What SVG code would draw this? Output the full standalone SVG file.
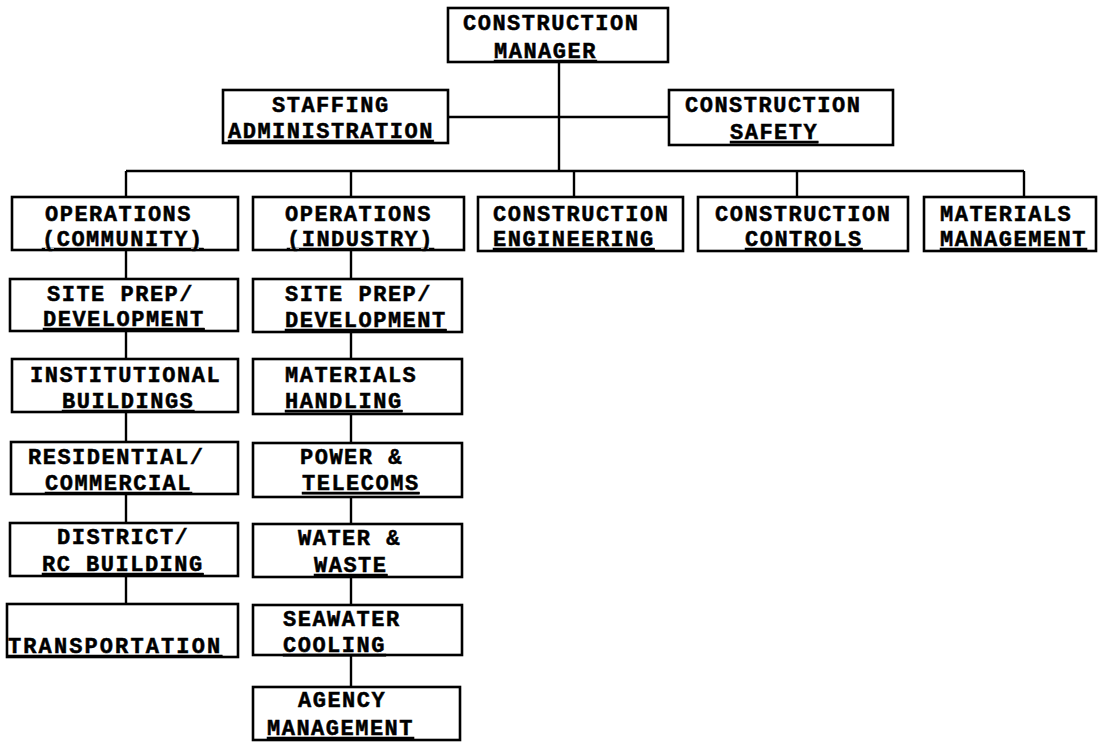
<svg xmlns="http://www.w3.org/2000/svg" width="1098" height="742" viewBox="0 0 1098 742">
<style>
  .box { fill: #fff; stroke: #000; stroke-width: 2.6; }
  .t { font-family: "Liberation Mono", "Courier New", monospace; font-weight: bold; font-size: 22px; letter-spacing: 1.5px; fill: #000; stroke: #000; stroke-width: 0.5; }
  .u { text-decoration: underline; }
  .c line { stroke: #000; stroke-width: 2.4; }
</style>
<rect width="1098" height="742" fill="#fff"/>
<g class="c" id="connectors">
  <line x1="559" y1="62" x2="559" y2="171"/>
  <line x1="448" y1="117" x2="669" y2="117"/>
  <line x1="126" y1="171" x2="1024" y2="171"/>
  <line x1="126" y1="171" x2="126" y2="197"/>
  <line x1="351" y1="171" x2="351" y2="197"/>
  <line x1="574" y1="171" x2="574" y2="197"/>
  <line x1="797" y1="171" x2="797" y2="197"/>
  <line x1="1024" y1="171" x2="1024" y2="197"/>
  <line x1="126" y1="250" x2="126" y2="279"/>
  <line x1="126" y1="331" x2="126" y2="359"/>
  <line x1="126" y1="412" x2="126" y2="442"/>
  <line x1="126" y1="494" x2="126" y2="523"/>
  <line x1="126" y1="576" x2="126" y2="604"/>
  <line x1="351" y1="250" x2="351" y2="279"/>
  <line x1="351" y1="332" x2="351" y2="359"/>
  <line x1="351" y1="414" x2="351" y2="443"/>
  <line x1="351" y1="497" x2="351" y2="524"/>
  <line x1="351" y1="577" x2="351" y2="605"/>
  <line x1="351" y1="655" x2="351" y2="687"/>
</g>
<g id="manager"><rect class="box" x="448" y="8" width="220" height="54"/>
  <text class="t" x="463" y="30">CONSTRUCTION</text><text class="t u" x="494" y="58">MANAGER</text></g>
<g id="staffing"><rect class="box" x="223" y="90" width="225" height="53"/>
  <text class="t" x="272" y="112">STAFFING</text><text class="t u" x="228" y="138">ADMINISTRATION</text></g>
<g id="safety"><rect class="box" x="669" y="90" width="224" height="55"/>
  <text class="t" x="685" y="112">CONSTRUCTION</text><text class="t u" x="730" y="139">SAFETY</text></g>
<g id="ops-community"><rect class="box" x="12" y="197" width="226" height="53"/>
  <text class="t" x="45" y="221">OPERATIONS</text><text class="t u" x="42" y="246">(COMMUNITY)</text></g>
<g id="ops-industry"><rect class="box" x="253" y="197" width="211" height="53"/>
  <text class="t" x="285" y="221">OPERATIONS</text><text class="t u" x="287" y="246">(INDUSTRY)</text></g>
<g id="engineering"><rect class="box" x="478" y="197" width="205" height="54"/>
  <text class="t" x="493" y="221">CONSTRUCTION</text><text class="t u" x="493" y="246">ENGINEERING</text></g>
<g id="controls"><rect class="box" x="698" y="197" width="210" height="54"/>
  <text class="t" x="715" y="221">CONSTRUCTION</text><text class="t u" x="745" y="246">CONTROLS</text></g>
<g id="materials-mgmt"><rect class="box" x="924" y="197" width="172" height="54"/>
  <text class="t" x="940" y="221">MATERIALS</text><text class="t u" x="940" y="246">MANAGEMENT</text></g>
<g id="c-siteprep"><rect class="box" x="10" y="279" width="228" height="52"/>
  <text class="t" x="47" y="301">SITE PREP/</text><text class="t u" x="43" y="326">DEVELOPMENT</text></g>
<g id="c-institutional"><rect class="box" x="12" y="359" width="226" height="53"/>
  <text class="t" x="30" y="382">INSTITUTIONAL</text><text class="t u" x="62" y="408">BUILDINGS</text></g>
<g id="c-residential"><rect class="box" x="11" y="442" width="227" height="52"/>
  <text class="t" x="28" y="464">RESIDENTIAL/</text><text class="t u" x="45" y="490">COMMERCIAL</text></g>
<g id="c-district"><rect class="box" x="10" y="523" width="228" height="53"/>
  <text class="t" x="57" y="544">DISTRICT/</text><text class="t u" x="42" y="571">RC BUILDING</text></g>
<g id="c-transportation"><rect class="box" x="7" y="604" width="231" height="53"/>
  <text class="t u" x="8" y="653" style="letter-spacing:2.1px">TRANSPORTATION</text></g>
<g id="i-siteprep"><rect class="box" x="253" y="279" width="209" height="53"/>
  <text class="t" x="285" y="301">SITE PREP/</text><text class="t u" x="285" y="327">DEVELOPMENT</text></g>
<g id="i-materials"><rect class="box" x="253" y="359" width="209" height="55"/>
  <text class="t" x="285" y="382">MATERIALS</text><text class="t u" x="285" y="408">HANDLING</text></g>
<g id="i-power"><rect class="box" x="253" y="443" width="209" height="54"/>
  <text class="t" x="300" y="464">POWER &amp;</text><text class="t u" x="302" y="490">TELECOMS</text></g>
<g id="i-water"><rect class="box" x="253" y="524" width="209" height="53"/>
  <text class="t" x="298" y="545">WATER &amp;</text><text class="t u" x="314" y="572">WASTE</text></g>
<g id="i-seawater"><rect class="box" x="253" y="605" width="209" height="50"/>
  <text class="t" x="283" y="626">SEAWATER</text><text class="t u" x="283" y="652">COOLING</text></g>
<g id="i-agency"><rect class="box" x="253" y="687" width="207" height="53"/>
  <text class="t" x="298" y="707">AGENCY</text><text class="t u" x="267" y="735">MANAGEMENT</text></g>
</svg>
